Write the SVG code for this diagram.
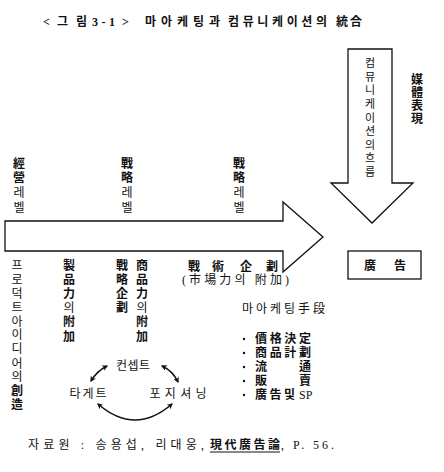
<svg xmlns="http://www.w3.org/2000/svg" width="444" height="472" viewBox="0 0 444 472">
<defs>
<style>
text{font-family:'Liberation Serif','Noto Sans CJK KR',serif;font-size:12px;fill:#111;}
.t{font-weight:bold;font-size:12px;}
.c{text-anchor:middle;}
.b{font-weight:bold;}
.s{font-size:11px;}
.ln{fill:none;stroke:#111;stroke-width:1.3;stroke-linejoin:miter;}
.cy{fill:none;stroke:#111;stroke-width:1.5;}
</style>
<marker id="ah" viewBox="0 0 10 10" refX="8" refY="5" markerWidth="6" markerHeight="6" orient="auto-start-reverse" markerUnits="userSpaceOnUse">
<path d="M0,0 L10,5 L0,10 L3,5 Z" fill="#111"/>
</marker>
</defs>
<rect width="444" height="472" fill="#fff"/>

<g id="title">
<text class="t" x="43" y="26">&lt;</text>
<text class="t" x="57" y="26" textLength="30" lengthAdjust="spacing">그림</text>
<text class="t" x="92" y="26" textLength="23" lengthAdjust="spacing">3-1</text>
<text class="t" x="122" y="26">&gt;</text>
<text class="t" x="145" y="26" textLength="75" lengthAdjust="spacing">마아케팅과</text>
<text class="t" x="228" y="26" textLength="99" lengthAdjust="spacing">컴뮤니케이션의</text>
<text class="t" x="336" y="26" textLength="26" lengthAdjust="spacing">統合</text>
</g>

<g id="connectors">
<path id="h-arrow" class="ln" d="M5,221 L283,221 L283,202 L323,237 L283,272 L283,251 L5,251 Z"/>
<path id="v-arrow" class="ln" d="M348,49 L392,49 L392,183 L413,183 L372,223 L331,183 L348,183 Z"/>
<path class="cy" d="M91,381 Q97,371 107,366" marker-start="url(#ah)" marker-end="url(#ah)"/>
<path class="cy" d="M162,366 Q173,371 178,382" marker-start="url(#ah)" marker-end="url(#ah)"/>
<path class="cy" d="M98,404 Q135,436 172,404" marker-start="url(#ah)" marker-end="url(#ah)"/>
</g>

<g id="flow-label">
<text class="c s" x="370"><tspan x="370" y="67">컴</tspan><tspan x="370" y="81">뮤</tspan><tspan x="370" y="94">니</tspan><tspan x="370" y="108">케</tspan><tspan x="370" y="122">이</tspan><tspan x="370" y="135">션</tspan><tspan x="370" y="149">의</tspan><tspan x="370" y="162">흐</tspan><tspan x="370" y="176">름</tspan></text>
</g>

<g id="media">
<text class="c b" x="417"><tspan x="417" y="84">媒</tspan><tspan x="417" y="97">體</tspan><tspan x="417" y="110">表</tspan><tspan x="417" y="123">現</tspan></text>
</g>

<g id="level1">
<text class="c" x="19"><tspan class="b" x="19" y="168">經</tspan><tspan class="b" x="19" y="182">營</tspan><tspan x="19" y="197">레</tspan><tspan x="19" y="212">벨</tspan></text>
</g>
<g id="level2">
<text class="c" x="127"><tspan class="b" x="127" y="168">戰</tspan><tspan class="b" x="127" y="182">略</tspan><tspan x="127" y="197">레</tspan><tspan x="127" y="212">벨</tspan></text>
</g>
<g id="level3">
<text class="c" x="239"><tspan class="b" x="239" y="168">戰</tspan><tspan class="b" x="239" y="182">略</tspan><tspan x="239" y="197">레</tspan><tspan x="239" y="212">벨</tspan></text>
</g>

<g id="ad-box">
<rect class="ln" x="348" y="251" width="73" height="28"/>
<text class="c b" x="370" y="269.5">廣</text>
<text class="c b" x="400" y="269.5">告</text>
</g>

<g id="product-idea">
<text class="c" x="17"><tspan x="17" y="269.5">프</tspan><tspan x="17" y="283.5">로</tspan><tspan x="17" y="297.5">덕</tspan><tspan x="17" y="311.5">트</tspan><tspan x="17" y="325.5">아</tspan><tspan x="17" y="339">이</tspan><tspan x="17" y="353">디</tspan><tspan x="17" y="367.5">어</tspan><tspan x="17" y="381">의</tspan><tspan class="b" x="17" y="395">創</tspan><tspan class="b" x="17" y="409">造</tspan></text>
</g>

<g id="product-power">
<text class="c" x="69"><tspan class="b" x="69" y="269.5">製</tspan><tspan class="b" x="69" y="283.5">品</tspan><tspan class="b" x="69" y="297.5">力</tspan><tspan x="69" y="311.5">의</tspan><tspan class="b" x="69" y="326">附</tspan><tspan class="b" x="69" y="341">加</tspan></text>
</g>

<g id="strategy-plan">
<text class="c b" x="122"><tspan x="122" y="269.5">戰</tspan><tspan x="122" y="283.5">略</tspan><tspan x="122" y="297.5">企</tspan><tspan x="122" y="311.5">劃</tspan></text>
</g>

<g id="goods-power">
<text class="c" x="142"><tspan class="b" x="142" y="269.5">商</tspan><tspan class="b" x="142" y="283.5">品</tspan><tspan class="b" x="142" y="297.5">力</tspan><tspan x="142" y="311.5">의</tspan><tspan class="b" x="142" y="326">附</tspan><tspan class="b" x="142" y="341">加</tspan></text>
</g>

<g id="tactics">
<text class="c b" x="194" y="270.5">戰</text>
<text class="c b" x="218" y="270.5">術</text>
<text class="c b" x="246" y="270.5">企</text>
<text class="c b" x="272" y="270.5">劃</text>
<text x="182" y="283.5" textLength="107" lengthAdjust="spacing">(市場力의  附加)</text>
</g>

<g id="marketing-means">
<text x="242" y="312.5" textLength="83" lengthAdjust="spacing">마아케팅手段</text>
<circle cx="244" cy="339" r="1.2" fill="#111"/>
<circle cx="244" cy="353" r="1.2" fill="#111"/>
<circle cx="244" cy="367" r="1.2" fill="#111"/>
<circle cx="244" cy="381" r="1.2" fill="#111"/>
<circle cx="244" cy="395" r="1.2" fill="#111"/>
<text class="b" x="255" y="342.5" textLength="56" lengthAdjust="spacing">價格決定</text>
<text class="b" x="255" y="356.5" textLength="56" lengthAdjust="spacing">商品計劃</text>
<text class="b" x="255" y="370.5">流</text>
<text class="b" x="299" y="370.5">通</text>
<text class="b" x="255" y="384.5">販</text>
<text class="b" x="299" y="384.5">賣</text>
<text class="b" x="255" y="398.5" textLength="40" lengthAdjust="spacing">廣告및</text>
<text x="299" y="398.5">SP</text>
</g>

<g id="concept">
<text class="c" x="133" y="369.5" textLength="34" lengthAdjust="spacing">컨셉트</text>
</g>
<g id="target">
<text class="c" x="88" y="397.5" textLength="37" lengthAdjust="spacing">타게트</text>
</g>
<g id="positioning">
<text class="c" x="178" y="397.5" textLength="57" lengthAdjust="spacing">포지셔닝</text>
</g>

<g id="source">
<text x="28" y="449" textLength="176" lengthAdjust="spacing">자료원 : 송용섭, 리대웅,</text>
<text class="b" x="210" y="449" textLength="70" lengthAdjust="spacing">現代廣告論</text>
<line x1="210" y1="452" x2="280" y2="452" stroke="#111" stroke-width="1"/>
<text x="281" y="449" textLength="53" lengthAdjust="spacing">, P. 56.</text>
</g>
</svg>
